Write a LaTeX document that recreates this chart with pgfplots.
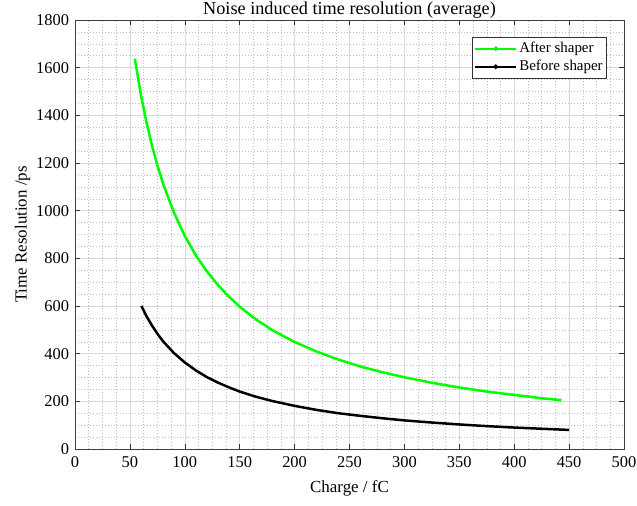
\documentclass[border=0pt]{standalone}
\usepackage{fontspec}
\setmainfont{Liberation Serif}
\usepackage{pgfplots}
\pgfplotsset{compat=1.18}

\begin{document}
\fontsize{14.5}{17}\selectfont
\begin{tikzpicture}
\useasboundingbox (-75bp,-57bp) rectangle (562bp,449bp);
\begin{axis}[
    scale only axis,
    width=549bp, height=429bp,
    xmin=0, xmax=500, ymin=0, ymax=1800,
    xtick={0,50,...,500}, ytick={0,200,...,1800},
    minor x tick num=3, minor y tick num=3,
    tick align=inside, tick pos=both,
    major tick length=5bp, minor tick length=0pt,
    axis line style={draw=black!75, line width=0.8pt},
    every tick/.style={black!80, line width=0.6pt},
    grid=both,
    major grid style={black!15, line width=0.5pt},
    minor grid style={black!25, dash pattern=on 0.7pt off 2.3pt, line width=0.5pt},
    /pgf/number format/assume math mode=true,
    /pgf/number format/1000 sep={},
    ticklabel style={font=\fontsize{16.5}{19}\selectfont},
    xticklabel style={yshift=-3bp},
    yticklabel style={xshift=-1bp},
    xlabel={Charge / fC}, ylabel={Time Resolution /ps},
    label style={font=\fontsize{17}{20}\selectfont},
    xlabel style={yshift=-3bp},
    ylabel style={yshift=-4bp},
    title={Noise induced time resolution (average)},
    title style={font=\fontsize{18.3}{21}\selectfont, yshift=-9bp},
    legend style={at={(1,1)}, anchor=north east, xshift=-17bp, yshift=-17bp,
        font=\fontsize{15}{17}\selectfont, draw=black!80, line width=0.6pt,
        inner xsep=2bp, inner ysep=3bp, row sep=1.5bp, cells={anchor=west}},
    legend image code/.code={\draw[#1, line width=2pt] (0cm,0cm) -- (1.45cm,0cm); \fill[#1] (0.725cm,0cm) circle (0.9pt);},
]
\addplot[color={rgb,1:red,0;green,1;blue,0}, line width=2.5pt]
  coordinates {(54.5,1637)(60,1487)(65,1373)(70,1275)(75,1191)(80,1116)(90,993)
  (100,894)(110,813)(120,746)(130,689)(140,640)(150,597)(165,543)(180,498)
  (200,449)(220,409)(240,375)(260,346)(280,322)(300,301)(325,278)(350,258)
  (375,241)(400,227)(425,213)(443,205)};
\addplot[color=black, line width=2.5pt]
  coordinates {(60.5,600)(65,558)(70,519)(75,484)(80,453)(90,403)(100,363)
  (110,330)(120,302)(130,279)(140,259)(150,241)(165,219)(180,201)(200,181)
  (220,164)(240,150)(260,139)(280,129)(300,120)(325,111)(350,103)(375,96)
  (400,90)(425,85)(450,80)};
\legend{After shaper, Before shaper}
\end{axis}
\end{tikzpicture}
\end{document}
